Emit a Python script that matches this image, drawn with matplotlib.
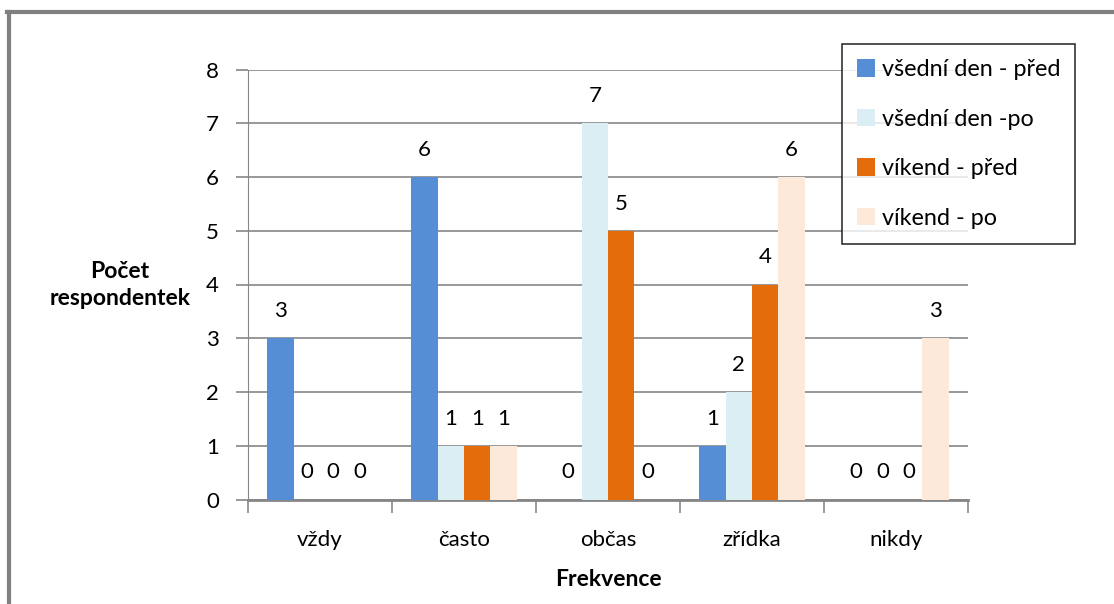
import matplotlib
matplotlib.use("Agg")
import matplotlib.pyplot as plt
from matplotlib.lines import Line2D
import numpy as np

plt.rcParams["font.family"] = ["Lato", "DejaVu Sans"]

categories = ["vždy", "často", "občas", "zřídka", "nikdy"]
series = ["všední den - před", "všední den -po", "víkend - před", "víkend - po"]
wd_before = [3, 6, 0, 1, 0]
wd_after = [0, 1, 7, 2, 0]
we_before = [0, 1, 5, 4, 0]
we_after = [0, 1, 0, 6, 3]
colors = ["#558ED5", "#DBEEF4", "#E46C0A", "#FDE9D9"]

fig = plt.figure(figsize=(11.14, 6.04), dpi=100)
ax = fig.add_axes([248 / 1114, 1 - 499.5 / 604, 720 / 1114, 430 / 604])

x = np.arange(len(categories))
w = 0.184
values = [wd_before, wd_after, we_before, we_after]
for i, (vals, c, name) in enumerate(zip(values, colors, series)):
    pos = x + (i - 1.5) * w
    ax.bar(pos, vals, width=w, color=c, label=name, zorder=3)
    for px, v in zip(pos, vals):
        ax.text(px, v + 0.32, str(v), ha="center", va="bottom", fontsize=16, color="black")

ax.set_xlim(-0.5, len(categories) - 0.5)
ax.set_ylim(0, 8)
ax.set_yticks(range(9))
ax.yaxis.grid(True, color="#868686", lw=1.2, zorder=0)
ax.set_axisbelow(True)
ax.set_xticks(np.arange(len(categories) + 1) - 0.5, minor=False)
ax.set_xticklabels([])
ax.set_xticks(x, minor=True)
ax.set_xticklabels(categories, minor=True)
ax.tick_params(axis="x", which="major", length=9, color="#868686", width=1.2)
ax.tick_params(axis="x", which="minor", length=0, pad=22, labelsize=16)
ax.tick_params(axis="y", length=9, color="#868686", width=1.2, labelsize=16, pad=12)
for s in ["top", "right"]:
    ax.spines[s].set_visible(False)
ax.spines["left"].set_color("#868686")
ax.spines["bottom"].set_color("#868686")
ax.spines["bottom"].set_linewidth(2)

ax.set_xlabel("Frekvence", fontsize=16.5, fontweight="bold", labelpad=14)
fig.text(120 / 1114, 1 - 285 / 604, "Počet\nrespondentek", ha="center", va="center",
         fontsize=16.5, fontweight="bold", linespacing=1.3)

leg = fig.legend(loc="upper left", bbox_to_anchor=(842 / 1114, 1 - 44 / 604),
                 borderaxespad=0, frameon=True, fancybox=False, edgecolor="black",
                 fontsize=16.8, handlelength=0.75, handleheight=0.75, handletextpad=0.3,
                 labelspacing=1.22, borderpad=0.65)
leg.get_frame().set_linewidth(1.2)

# frame lines along the left and top of the chart area
fig.add_artist(Line2D([8.5 / 1114, 8.5 / 1114], [0, 1 - 11.5 / 604], color="#808080", lw=3))
fig.add_artist(Line2D([7 / 1114, 1], [1 - 11.5 / 604, 1 - 11.5 / 604], color="#808080", lw=3))

plt.savefig("out.png", dpi=100)
